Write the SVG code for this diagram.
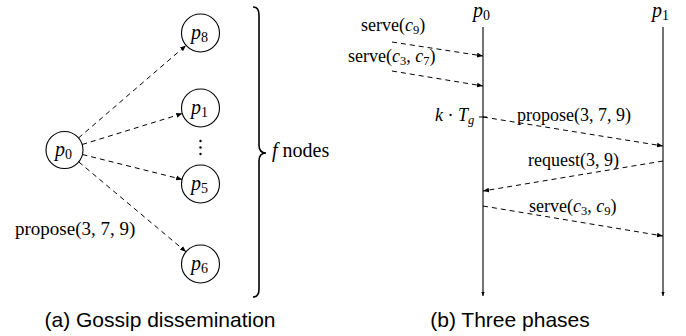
<svg xmlns="http://www.w3.org/2000/svg" width="686" height="336" viewBox="0 0 686 336">
<defs>
<marker id="ah" viewBox="0 0 10 10" refX="10" refY="5" markerWidth="6" markerHeight="6" markerUnits="userSpaceOnUse" orient="auto">
<path d="M0,1 L10,5 L0,9 Z" fill="#000"/>
</marker>
<marker id="ahs" viewBox="0 0 10 10" refX="10" refY="5" markerWidth="4" markerHeight="4" markerUnits="userSpaceOnUse" orient="auto">
<path d="M0,1 L10,5 L0,9 Z" fill="#000"/>
</marker>
</defs>
<style>
.node{fill:#fff;stroke:#000;stroke-width:1.1}
.msg{fill:none;stroke:#000;stroke-width:1;stroke-dasharray:5 4;marker-end:url(#ah)}
.tl{fill:none;stroke:#000;stroke-width:1.1;marker-end:url(#ahs)}
.m{font-family:"Liberation Serif","Times New Roman",serif;fill:#000}
.i{font-style:italic}
.cap{font-family:"Liberation Sans",Arial,sans-serif;font-size:21px;fill:#000}
</style>
<rect width="686" height="336" fill="#fff"/>

<g id="connectors">
<path class="msg" d="M78.5,138 L186,45.4"/>
<path class="msg" d="M82.2,144.5 L182.3,113.6"/>
<path class="msg" d="M82.4,154.5 L182.1,179.4"/>
<path class="msg" d="M78.7,161.9 L186,251.8"/>
<path class="tl" d="M483,27 L483,296"/>
<path class="tl" d="M663,27 L663,296"/>
<path class="msg" d="M392,42 L483,56"/>
<path class="msg" d="M392,71 L483,86"/>
<path class="msg" d="M483,117 L663,146"/>
<path class="msg" d="M663,161 L483,191"/>
<path class="msg" d="M483,206 L663,236"/>
<path d="M479,117 L487,117" stroke="#000" stroke-width="1"/>
</g>

<g id="p0">
<circle class="node" cx="64.5" cy="150" r="18.5"/>
<text class="m" x="55" y="156" font-size="20"><tspan class="i">p</tspan><tspan font-size="14" dy="3">0</tspan></text>
</g>
<g id="p8">
<circle class="node" cx="200.5" cy="33" r="19"/>
<text class="m" x="191" y="39" font-size="20"><tspan class="i">p</tspan><tspan font-size="14" dy="3">8</tspan></text>
</g>
<g id="p1">
<circle class="node" cx="200.5" cy="108" r="19"/>
<text class="m" x="191" y="114" font-size="20"><tspan class="i">p</tspan><tspan font-size="14" dy="3">1</tspan></text>
</g>
<g id="p5">
<circle class="node" cx="200.5" cy="184" r="19"/>
<text class="m" x="191" y="190" font-size="20"><tspan class="i">p</tspan><tspan font-size="14" dy="3">5</tspan></text>
</g>
<g id="p6">
<circle class="node" cx="200.5" cy="264" r="19"/>
<text class="m" x="191" y="270" font-size="20"><tspan class="i">p</tspan><tspan font-size="14" dy="3">6</tspan></text>
</g>
<g id="dots">
<circle cx="200.5" cy="141" r="1.2" fill="#000"/>
<circle cx="200.5" cy="147.5" r="1.2" fill="#000"/>
<circle cx="200.5" cy="154" r="1.2" fill="#000"/>
</g>
<text class="m" x="15" y="235" font-size="19">propose(3, 7, 9)</text>

<g id="brace">
<path d="M253,7 Q259,7 259,15 L259,145 Q259,153 266,153 Q259,153 259,161 L259,289 Q259,297 253,297" fill="none" stroke="#000" stroke-width="1.6"/>
<text class="m" x="272" y="157" font-size="20"><tspan class="i">f</tspan> nodes</text>
</g>

<text class="cap" x="160" y="327" text-anchor="middle">(a) Gossip dissemination</text>

<g id="proc-p0">
<text class="m" x="473" y="17" font-size="20"><tspan class="i">p</tspan><tspan font-size="14" dy="3">0</tspan></text>
</g>
<g id="proc-p1">
<text class="m" x="652" y="17" font-size="20"><tspan class="i">p</tspan><tspan font-size="14" dy="3">1</tspan></text>
</g>

<text class="m" x="361" y="31" font-size="18">serve(<tspan class="i">c</tspan><tspan font-size="12.5" dy="3">9</tspan><tspan dy="-3">)</tspan></text>
<text class="m" x="348" y="62" font-size="18">serve(<tspan class="i">c</tspan><tspan font-size="12.5" dy="3">3</tspan><tspan dy="-3">, </tspan><tspan class="i">c</tspan><tspan font-size="12.5" dy="3">7</tspan><tspan dy="-3">)</tspan></text>
<text class="m" x="435" y="121" font-size="18"><tspan class="i">k</tspan> · <tspan class="i">T</tspan><tspan class="i" font-size="12.5" dy="3">g</tspan></text>
<text class="m" x="517" y="121" font-size="18">propose(3, 7, 9)</text>
<text class="m" x="528" y="166" font-size="18">request(3, 9)</text>
<text class="m" x="529" y="212" font-size="18">serve(<tspan class="i">c</tspan><tspan font-size="12.5" dy="3">3</tspan><tspan dy="-3">, </tspan><tspan class="i">c</tspan><tspan font-size="12.5" dy="3">9</tspan><tspan dy="-3">)</tspan></text>

<text class="cap" x="510" y="327" text-anchor="middle">(b) Three phases</text>
</svg>
